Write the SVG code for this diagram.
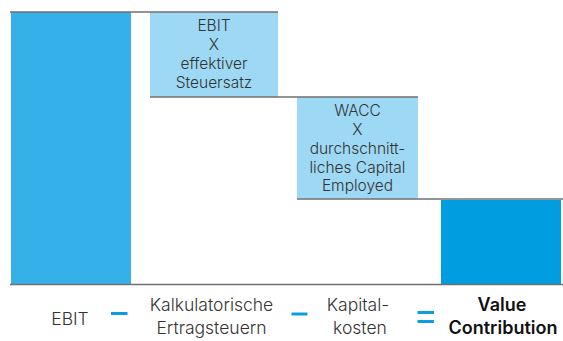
<svg xmlns="http://www.w3.org/2000/svg" width="563" height="341" viewBox="0 0 563 341">
<style>
.t{font-family:Inter,Roboto,"Liberation Sans",sans-serif;font-weight:300;fill:#333;text-anchor:middle}
.bx{font-size:15.5px}
.lb{font-size:17.5px}
.b{font-weight:600;fill:#111;font-size:18px}
.ln{stroke:#707070;stroke-width:1.5;fill:none}
.op{stroke:#0a9ee0;stroke-width:3}
</style>
<rect width="563" height="341" fill="#fff"/>
<g id="ebit-bar"><rect x="11" y="12" width="120" height="272" fill="#35b0e8"/></g>
<g id="steuer-box"><rect x="150" y="12" width="128" height="85" fill="#9dd9f4"/>
<text class="t bx" x="214" y="31">EBIT</text>
<text class="t bx" x="214" y="50">X</text>
<text class="t bx" x="214" y="69">effektiver</text>
<text class="t bx" x="214" y="88">Steuersatz</text></g>
<g id="kapital-box"><rect x="297" y="97" width="121" height="102" fill="#9dd9f4"/>
<text class="t bx" x="357.5" y="116">WACC</text>
<text class="t bx" x="357.5" y="135">X</text>
<text class="t bx" x="357.5" y="154">durchschnitt-</text>
<text class="t bx" x="357.5" y="173">liches Capital</text>
<text class="t bx" x="357.5" y="191">Employed</text></g>
<g id="value-bar"><rect x="441" y="200" width="120" height="84" fill="#009ee0"/></g>
<g id="connectors">
<line class="ln" x1="10" y1="12" x2="278" y2="12"/>
<line class="ln" x1="150" y1="97" x2="418" y2="97"/>
<line class="ln" x1="297" y1="199" x2="563" y2="199"/>
<line class="ln" x1="10" y1="284.5" x2="563" y2="284.5"/>
</g>
<g id="labels">
<text class="t lb" x="70" y="325">EBIT</text>
<line class="op" x1="111" y1="313.5" x2="127.5" y2="313.5"/>
<text class="t lb" x="211.5" y="311">Kalkulatorische</text>
<text class="t lb" x="211.5" y="334">Ertragsteuern</text>
<line class="op" x1="291.5" y1="314" x2="307.5" y2="314"/>
<text class="t lb" x="358" y="311">Kapital-</text>
<text class="t lb" x="360" y="334">kosten</text>
<line class="op" x1="417.5" y1="312.5" x2="434" y2="312.5"/>
<line class="op" x1="417.5" y1="321.5" x2="434" y2="321.5"/>
<text class="t b" x="502" y="311">Value</text>
<text class="t b" x="503" y="334">Contribution</text>
</g>
</svg>
